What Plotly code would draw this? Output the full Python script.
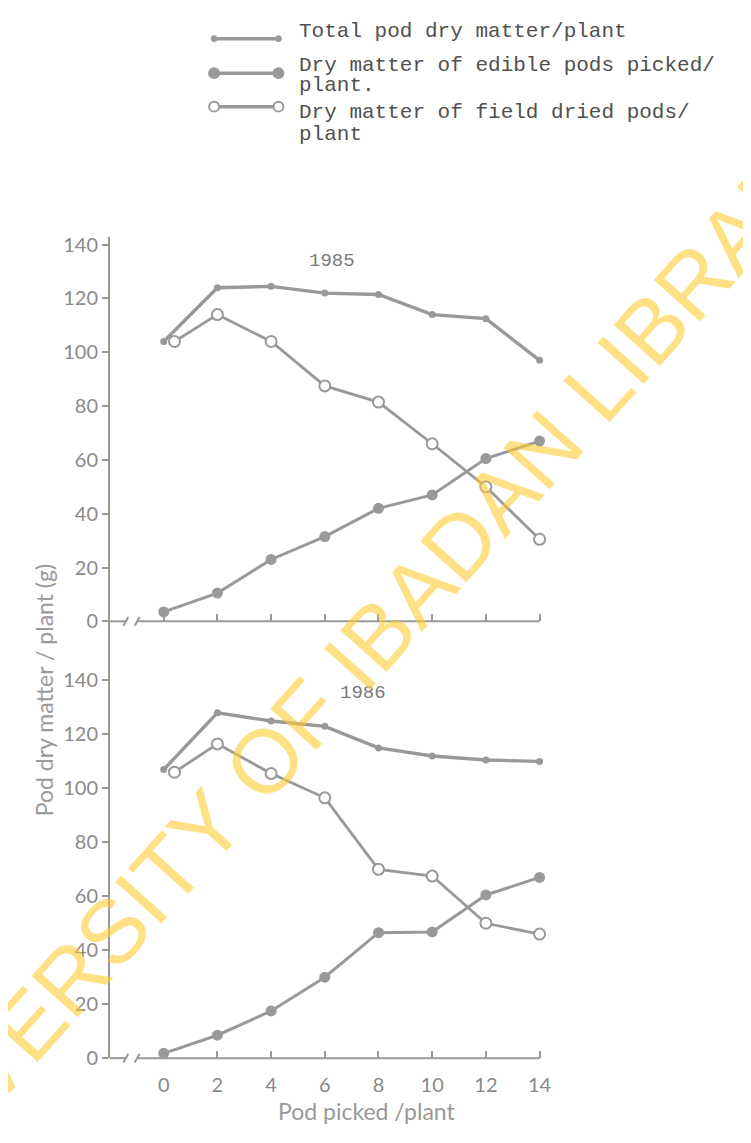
import plotly.graph_objects as go

# ---------------- data ----------------
pods_picked = [0, 2, 4, 6, 8, 10, 12, 14]
field_x = [0.4, 2, 4, 6, 8, 10, 12, 14]   # first open circle is drawn slightly offset in the original

total_1985 = [104, 124, 124.5, 122, 121.5, 114, 112.5, 97]
edible_1985 = [3.5, 10.5, 23, 31.5, 42, 47, 60.5, 67]
field_1985 = [104, 114, 104, 87.5, 81.5, 66, 50, 30.5]

total_1986 = [107, 128, 125, 123, 115, 112, 110.5, 110]
edible_1986 = [1.8, 8.5, 17.5, 30, 46.5, 46.8, 60.5, 67]
field_1986 = [106, 116.5, 105.5, 96.5, 70, 67.5, 50, 46]

y_ticks = [0, 20, 40, 60, 80, 100, 120, 140]
x_ticks = [0, 2, 4, 6, 8, 10, 12, 14]
x_tick_labels = ["0", "2", "4", "6", "8", "10", "12", "14"]

legend_labels = [
    ["Total pod dry matter/plant"],
    ["Dry matter of edible pods picked/", "plant."],
    ["Dry matter of field dried pods/", "plant"],
]

# ---------------- styling ----------------
W, H = 751, 1143
GRAY = "#999999"
TXT = "#8a8a8a"
LEG_TXT = "#505050"


def px(xp):
    return xp / W


def py(yp):
    return 1 - yp / H


fig = go.Figure()


def add_panel(xa, ya, total, edible, field):
    fig.add_trace(go.Scatter(x=pods_picked, y=total, xaxis=xa, yaxis=ya, mode="lines+markers",
                             line=dict(color=GRAY, width=3.4),
                             marker=dict(size=7, color=GRAY), cliponaxis=False,
                             showlegend=False))
    fig.add_trace(go.Scatter(x=field_x, y=field, xaxis=xa, yaxis=ya, mode="lines+markers",
                             line=dict(color=GRAY, width=2.8),
                             marker=dict(size=11, color="white", line=dict(color=GRAY, width=2)),
                             cliponaxis=False, showlegend=False))
    fig.add_trace(go.Scatter(x=pods_picked, y=edible, xaxis=xa, yaxis=ya, mode="lines+markers",
                             line=dict(color=GRAY, width=3),
                             marker=dict(size=11, color=GRAY), cliponaxis=False,
                             showlegend=False))


add_panel("x", "y", total_1985, edible_1985, field_1985)
add_panel("x2", "y2", total_1986, edible_1986, field_1986)

xdom = [px(103), px(542)]
top_base, top_top = 617, 617 - 143 * 2.729
bot_base, bot_top = 1060, 1060 - 162 * 2.736

tickfont = dict(family="Lato", size=20, color=TXT)

common_x = dict(range=[-2, 14.2], domain=xdom, showline=False, showgrid=False, zeroline=False,
                ticks="inside", ticklen=7, tickwidth=1.6, tickcolor=GRAY,
                tickvals=x_ticks, ticktext=x_tick_labels, tickfont=tickfont)
common_y = dict(showline=True, linewidth=2, linecolor=GRAY, showgrid=False, zeroline=False,
                ticks="outside", ticklen=6, tickwidth=1.6, tickcolor=GRAY,
                tickvals=y_ticks, tickfont=tickfont)

fig.update_layout(
    width=W, height=H,
    margin=dict(l=0, r=0, t=0, b=0),
    paper_bgcolor="white", plot_bgcolor="white",
    xaxis=dict(common_x, anchor="y", showticklabels=False),
    yaxis=dict(common_y, range=[0, 143], domain=[py(top_base), py(top_top)], anchor="x"),
    xaxis2=dict(common_x, anchor="y2", showticklabels=True, ticklabelstandoff=13),
    yaxis2=dict(common_y, range=[0, 162], domain=[py(bot_base), py(bot_top)], anchor="x2"),
)

shapes = []
# x-axis lines with break marks
for base in (top_base, bot_base):
    yb = py(base)
    dy = 4.5 / H
    shapes.append(dict(type="line", xref="x", yref="paper", x0=-2, x1=-1.4, y0=yb, y1=yb,
                       line=dict(color=GRAY, width=2)))
    shapes.append(dict(type="line", xref="x", yref="paper", x0=-1.5, x1=-1.32, y0=yb - dy, y1=yb + dy,
                       line=dict(color=GRAY, width=2)))
    shapes.append(dict(type="line", xref="x", yref="paper", x0=-1.08, x1=-0.9, y0=yb - dy, y1=yb + dy,
                       line=dict(color=GRAY, width=2)))
    shapes.append(dict(type="line", xref="x", yref="paper", x0=-0.98, x1=14, y0=yb, y1=yb,
                       line=dict(color=GRAY, width=2)))

# legend samples
leg_y = [26, 61, 95]
x0l, x1l = 208, 273
for i, yy in enumerate(leg_y):
    shapes.append(dict(type="line", xref="paper", yref="paper", x0=px(x0l), x1=px(x1l),
                       y0=py(yy), y1=py(yy), line=dict(color=GRAY, width=3.5)))
    if i == 0:
        for xc in (x0l, x1l):
            r = 3
            shapes.append(dict(type="circle", xref="paper", yref="paper",
                               x0=px(xc - r), x1=px(xc + r), y0=py(yy + r), y1=py(yy - r),
                               fillcolor=GRAY, line=dict(color=GRAY, width=1)))
    else:
        for xc in (x0l, x1l):
            r = 5
            fill = GRAY if i == 1 else "white"
            shapes.append(dict(type="circle", xref="paper", yref="paper",
                               x0=px(xc - r), x1=px(xc + r), y0=py(yy + r), y1=py(yy - r),
                               fillcolor=fill, line=dict(color=GRAY, width=2)))

fig.update_layout(shapes=shapes)

ann = []
mono = dict(family="Liberation Mono", size=21, color=LEG_TXT)
text_rows = [(legend_labels[0][0], 19), (legend_labels[1][0], 53), (legend_labels[1][1], 74),
             (legend_labels[2][0], 101), (legend_labels[2][1], 123)]
for t, yy in text_rows:
    ann.append(dict(text=t, x=px(292), y=py(yy), xref="paper", yref="paper", xanchor="left",
                    yanchor="middle", showarrow=False, font=mono))

# panel year labels
ann.append(dict(text="1985", x=px(327), y=py(238), xref="paper", yref="paper", showarrow=False,
                font=dict(family="Liberation Mono", size=19, color="#7a7a7a")))
ann.append(dict(text="1986", x=px(358), y=py(690), xref="paper", yref="paper", showarrow=False,
                font=dict(family="Liberation Mono", size=19, color="#7a7a7a")))

# axis titles
ann.append(dict(text="Pod dry matter / plant (g)", x=px(21), y=py(687), xref="paper", yref="paper",
                textangle=-90, showarrow=False, font=dict(family="Lato", size=23, color="#9a9a9a")))
ann.append(dict(text="Pod picked /plant", x=px(362), y=py(1130), xref="paper", yref="paper",
                showarrow=False, font=dict(family="Lato", size=23, color="#999999")))

# watermark
ann.append(dict(text="UNIVERSITY OF IBADAN LIBRARY",
                x=px(347), y=py(660), xref="paper", yref="paper",
                textangle=-48.2, showarrow=False, xanchor="center", yanchor="middle",
                font=dict(family="Liberation Sans", size=90, color="rgba(255,204,51,0.6)")))

fig.update_layout(annotations=ann)

fig.write_html("out.html")
